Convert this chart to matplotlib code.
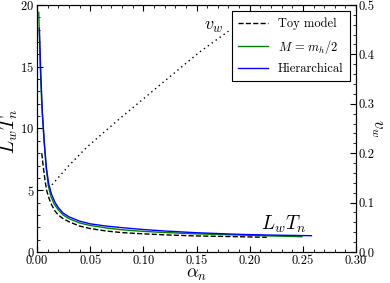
import matplotlib
matplotlib.use("Agg")
import matplotlib.pyplot as plt
from matplotlib.ticker import MultipleLocator

plt.rcParams["font.family"] = "serif"
plt.rcParams["font.serif"] = ["cmr10", "DejaVu Serif"]
plt.rcParams["mathtext.fontset"] = "cm"
plt.rcParams["axes.formatter.use_mathtext"] = True

# L_w T_n curves
alpha_toy = [0.0044, 0.006, 0.0075, 0.009, 0.011, 0.0138, 0.017, 0.02, 0.0245, 0.03,
             0.04, 0.05, 0.065, 0.08, 0.1, 0.12, 0.15, 0.19, 0.216]
lt_toy = [8.0, 6.8, 5.8, 5.0, 4.4, 3.8, 3.3, 3.0, 2.7, 2.45,
          2.1, 1.9, 1.7, 1.57, 1.47, 1.39, 1.3, 1.24, 1.19]

alpha_half = [0.0016, 0.003, 0.0045, 0.0066, 0.0085, 0.0105, 0.013, 0.016, 0.02, 0.0245,
              0.03, 0.04, 0.05, 0.065, 0.08, 0.1, 0.12, 0.15, 0.19, 0.22, 0.249]
lt_half = [19.4, 15.0, 11.8, 9.0, 6.9, 5.4, 4.5, 3.9, 3.4, 3.0,
           2.7, 2.35, 2.15, 1.95, 1.8, 1.67, 1.58, 1.47, 1.38, 1.3, 1.24]

alpha_hier = [0.0022, 0.0035, 0.005, 0.0068, 0.0088, 0.011, 0.0135, 0.017, 0.02, 0.0245,
              0.03, 0.04, 0.05, 0.065, 0.08, 0.1, 0.12, 0.15, 0.19, 0.22, 0.258]
lt_hier = [18.1, 14.5, 11.3, 8.9, 6.8, 5.5, 4.7, 4.0, 3.6, 3.15,
           2.85, 2.5, 2.28, 2.1, 1.97, 1.82, 1.7, 1.56, 1.43, 1.37, 1.32]

# wall velocity (right axis)
alpha_vw = [0.014, 0.03, 0.047, 0.075, 0.1, 0.125, 0.153, 0.18]
vw = [0.136, 0.175, 0.2125, 0.265, 0.31, 0.355, 0.405, 0.447]

fig = plt.figure(figsize=(3.9, 2.83), dpi=100)
ax = fig.add_axes([0.095, 0.1095, 0.818, 0.873])
ax2 = ax.twinx()

ax.plot(alpha_toy, lt_toy, "k--", lw=1.0, label="Toy model")
ax.plot(alpha_half, lt_half, color="#008000", lw=1.0, label=r"$M\,=\,m_h/2$")
ax.plot(alpha_hier, lt_hier, color="#0000ff", lw=1.0, label="Hierarchical")
ax2.plot(alpha_vw, vw, color="k", lw=1.0, linestyle=(0, (1, 2.5)))

ax.set_xlim(0, 0.30)
ax.set_ylim(0, 20)
ax2.set_ylim(0, 0.5)

ax.xaxis.set_major_locator(MultipleLocator(0.05))
ax.xaxis.set_minor_locator(MultipleLocator(0.01))
ax.yaxis.set_major_locator(MultipleLocator(5))
ax.yaxis.set_minor_locator(MultipleLocator(1))
ax2.yaxis.set_major_locator(MultipleLocator(0.1))
ax2.yaxis.set_minor_locator(MultipleLocator(0.02))
ax.xaxis.set_major_formatter(plt.FormatStrFormatter("%.2f"))
ax2.yaxis.set_major_formatter(plt.FormatStrFormatter("%.1f"))

ax.tick_params(which="both", direction="in", top=True, labelsize=9, pad=2)
ax.tick_params(which="major", length=4)
ax.tick_params(which="minor", length=2)
ax2.tick_params(which="both", direction="in", labelsize=9, pad=2)
ax2.tick_params(which="major", length=4)
ax2.tick_params(which="minor", length=2)

ax.set_xlabel(r"$\alpha_n$", fontsize=13, labelpad=0)
ax.set_ylabel(r"$L_w T_n$", fontsize=14)
ax.yaxis.set_label_coords(-0.052, 0.49)
ax2.set_ylabel(r"$v_w$", fontsize=12, rotation=270, va="center")
ax2.yaxis.set_label_coords(1.065, 0.5)

ax.text(0.211, 1.8, r"$L_w T_n$", fontsize=14)
ax.text(0.157, 18.0, r"$v_w$", fontsize=13)

leg = ax.legend(loc="upper right", fontsize=9, fancybox=False, framealpha=1,
                edgecolor="black", borderaxespad=0.5, handlelength=2.4,
                labelspacing=0.6, borderpad=0.5)
leg.get_frame().set_linewidth(0.8)

fig.savefig("out.png", dpi=100)
